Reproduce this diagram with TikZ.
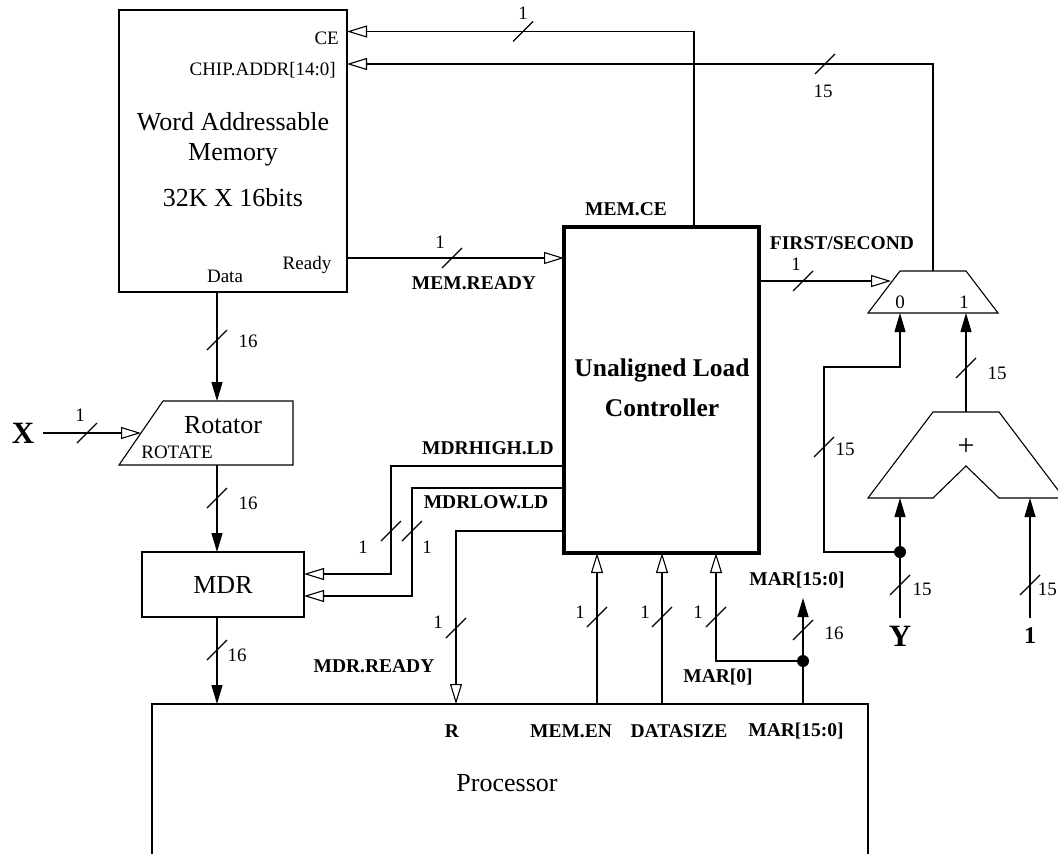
\documentclass[tikz,border=0pt]{standalone}
\usepackage{fontspec}
\setmainfont{Liberation Serif}
\usetikzlibrary{arrows.meta,calc}
\begin{document}
\begin{tikzpicture}[x=1pt,y=-1pt,
  wire/.style={line width=1.1pt},
  oarr/.style={-{Triangle[open,length=20pt,width=12pt,fill=white]}},
  farr/.style={-{Triangle[length=19pt,width=11pt]}},
  blk/.style={draw,line width=1.1pt,inner sep=0pt},
  big/.style={font=\fontsize{26}{30}\selectfont,inner sep=0pt},
  bigb/.style={font=\fontsize{25.5}{30}\selectfont\bfseries,inner sep=0pt},
  sm/.style={font=\fontsize{19}{22}\selectfont,inner sep=0pt},
  bl/.style={font=\fontsize{19.5}{22}\selectfont\bfseries,inner sep=0pt},
  huge/.style={font=\fontsize{31}{34}\selectfont\bfseries,inner sep=0pt},
  pics/bus/.style={code={\draw[wire] (-10,10) -- (10,-10);}},
]
\useasboundingbox (0,0) rectangle (1058,854);

% ---------- blocks ----------
\node[blk,minimum width=228pt,minimum height=282pt] (mem) at (233,151) {};
\node[blk,line width=4pt,minimum width=195pt,minimum height=326pt] (ctl) at (661.5,390) {};
\node[blk,minimum width=162pt,minimum height=65pt] (mdr) at (223,584.5) {};
\draw[wire] (152,870) -- (152,704) -- (868,704) -- (868,870);
\draw[wire] (163,401) -- (293,401) -- (293,465) -- (119,465) -- cycle;
\draw[wire] (900,271) -- (966,271) -- (998,313) -- (868,313) -- cycle;
\draw[wire] (933,412) -- (999,412) -- (1064,498) -- (999,498) -- (966,466) -- (933,498) -- (868,498) -- cycle;

% ---------- coordinates ----------
\coordinate (ctlCE) at (694,227);
\coordinate (memCE) at (347,31.5);
\coordinate (muxOut) at (933,271);
\coordinate (memAD) at (347,64);
\coordinate (memRdy) at (347,258);
\coordinate (ctlRdy) at (564,258);
\coordinate (ctlFS) at (759,281);
\coordinate (muxSel) at (891,281);
\coordinate (mux0) at (900,313);
\coordinate (mux1) at (966,313);
\coordinate (addOut) at (966,412);
\coordinate (addA) at (900,498);
\coordinate (addB) at (1030,498);
\coordinate (yIn) at (900,618);
\coordinate (oneIn) at (1030,618);
\coordinate (yDot) at (900,552);
\coordinate (memData) at (217,292);
\coordinate (rotTop) at (217,401);
\coordinate (rotBot) at (217,465);
\coordinate (rotSel) at (141,433);
\coordinate (xIn) at (43,433);
\coordinate (mdrTop) at (217,552);
\coordinate (mdrBot) at (217,617);
\coordinate (procD) at (217,704);
\coordinate (ctlHi) at (564,466);
\coordinate (mdrHi) at (304,574);
\coordinate (ctlLo) at (564,488);
\coordinate (mdrLo) at (304,596);
\coordinate (ctlMR) at (564,531);
\coordinate (procR) at (456,704);
\coordinate (procEN) at (597,704);
\coordinate (ctlEN) at (597,553);
\coordinate (procDS) at (662,704);
\coordinate (ctlDS) at (662,553);
\coordinate (ctlM0) at (716,553);
\coordinate (marDot) at (803,661);
\coordinate (procMAR) at (803,704);
\coordinate (marOut) at (803,598);

% ---------- connectors ----------
\draw[wire,oarr] (ctlCE) |- (memCE);
\draw[wire,oarr] (muxOut) |- (memAD);
\draw[wire,oarr] (memRdy) -- (ctlRdy);
\draw[wire,oarr] (ctlFS) -- (muxSel);
\draw[wire,farr] (yDot) -- (824,552) -- (824,367) -- (900,367) -- (mux0);
\draw[wire,farr] (addOut) -- (mux1);
\draw[wire,farr] (yIn) -- (addA);
\draw[wire,farr] (oneIn) -- (addB);
\fill (yDot) circle (6pt);
\draw[wire,farr] (memData) -- (rotTop);
\draw[wire,oarr] (xIn) -- (rotSel);
\draw[wire,farr] (rotBot) -- (mdrTop);
\draw[wire,farr] (mdrBot) -- (procD);
\draw[wire,oarr] (ctlHi) -- (391,466) -- (391,574) -- (mdrHi);
\draw[wire,oarr] (ctlLo) -- (412,488) -- (412,596) -- (mdrLo);
\draw[wire,oarr] (ctlMR) -| (procR);
\draw[wire,oarr] (procEN) -- (ctlEN);
\draw[wire,oarr] (procDS) -- (ctlDS);
\draw[wire,oarr] (marDot) -| (ctlM0);
\draw[wire,farr] (procMAR) -- (marOut);
\fill (marDot) circle (6pt);

% ---------- bus marks ----------
\pic at (523,31.5) {bus};
\pic at (825,64) {bus};
\pic at (452,258) {bus};
\pic at (803,281) {bus};
\pic at (824,447) {bus};
\pic at (966,368) {bus};
\pic at (900,585) {bus};
\pic at (1030,585) {bus};
\pic at (217,340) {bus};
\pic at (87,433) {bus};
\pic at (217,498) {bus};
\pic at (217,650) {bus};
\pic at (391,531) {bus};
\pic at (412,531) {bus};
\pic at (456,628) {bus};
\pic at (597,617) {bus};
\pic at (662,617) {bus};
\pic at (716,617) {bus};
\pic at (803,630) {bus};

% ---------- bus widths ----------
\node[sm] (wCE) at (523,13) {1};
\node[sm] (wAD) at (823,91) {15};
\node[sm] (wRdy) at (440,242) {1};
\node[sm] (wFS) at (796,264) {1};
\node[sm] (wM0) at (845,449) {15};
\node[sm] (wM1) at (997,373) {15};
\node[sm] (wY) at (922,589) {15};
\node[sm,anchor=east] (wOne) at (1057,589) {15};
\node[sm] (wData) at (248,341) {16};
\node[sm] (wX) at (80,415) {1};
\node[sm] (wRot) at (248,503) {16};
\node[sm] (wMDR) at (237,655) {16};
\node[sm] (wHi) at (363,547) {1};
\node[sm] (wLo) at (427,547) {1};
\node[sm] (wMR) at (438,622) {1};
\node[sm] (wEN) at (580,612) {1};
\node[sm] (wDS) at (645,612) {1};
\node[sm] (wM0b) at (698,612) {1};
\node[sm] (wMAR) at (834,633) {16};

% ---------- labels ----------
\node[sm,anchor=east] (tCE) at (339,38) {CE};
\node[sm,anchor=east] (tAD) at (336,70) {CHIP.ADDR[14:0]};
\node[big] (tWA) at (233,122) {Word Addressable};
\node[big] (tMem) at (233,155) {Memory};
\node[big] (tSize) at (233,198) {32K X 16bits};
\node[sm] (tData) at (225,276) {Data};
\node[sm] (tRdy) at (307,265) {Ready};
\node[bl] (tMCE) at (626,209) {MEM.CE};
\node[bl] (tFS) at (842,243) {FIRST/SECOND};
\node[bl] (tMR) at (474,283) {MEM.READY};
\node[bigb] (tUL) at (662,370) {Unaligned Load};
\node[bigb] (tCtl) at (662,408) {Controller};
\node[big] (tRot) at (223,425) {Rotator};
\node[sm] (tRotS) at (177,452) {ROTATE};
\node[huge] (tX) at (23,433) {X};
\node[huge] (tY) at (900,636) {Y};
\node[font=\fontsize{24}{26}\selectfont\bfseries,inner sep=0pt] (tOne) at (1030,636) {1};
\node[big] (tMDR) at (223,585) {MDR};
\node[big] (tProc) at (507,783) {Processor};
\node[bl] (tR) at (452,731) {R};
\node[bl] (tEN) at (571,731) {MEM.EN};
\node[bl] (tDS) at (679,731) {DATASIZE};
\node[bl] (tMARp) at (796,731) {MAR[15:0]};
\node[bl] (tHi) at (488,448) {MDRHIGH.LD};
\node[bl] (tLo) at (486,502) {MDRLOW.LD};
\node[bl] (tMDRR) at (374,666) {MDR.READY};
\node[bl] (tMARo) at (797,580) {MAR[15:0]};
\node[bl] (tMAR0) at (718,677) {MAR[0]};
\node[sm] (t0) at (900,302) {0};
\node[sm] (t1) at (964,302) {1};
\node[font=\fontsize{30}{32}\selectfont,inner sep=0pt] (tPlus) at (966,447) {+};
\end{tikzpicture}
\end{document}
